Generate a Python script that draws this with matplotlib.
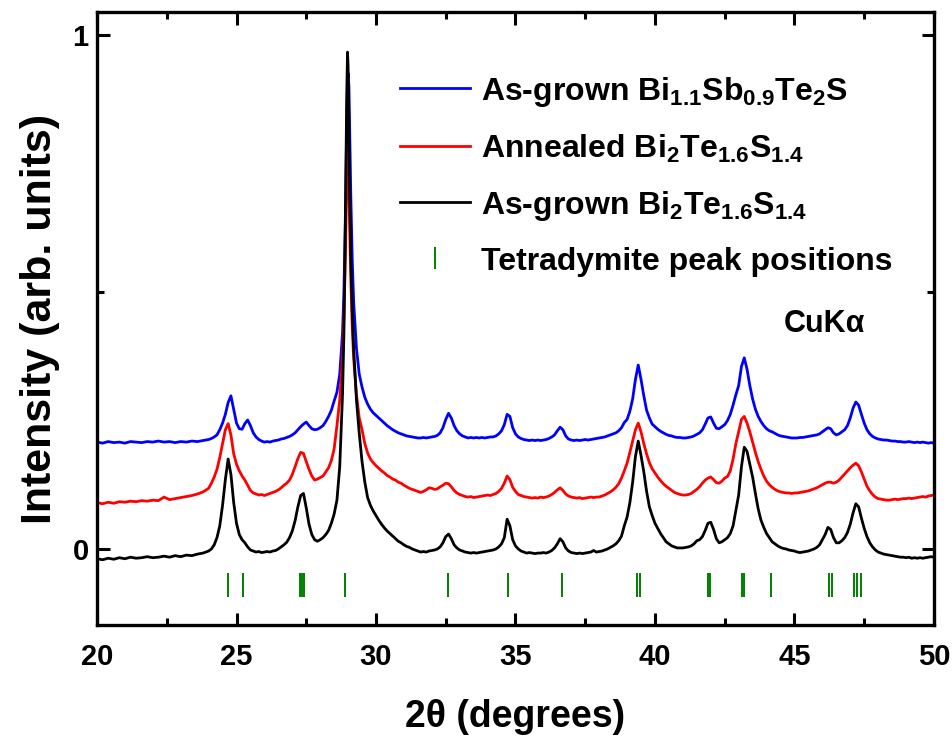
import numpy as np
import matplotlib
matplotlib.use("Agg")
import matplotlib.pyplot as plt
from matplotlib.lines import Line2D
from matplotlib.ticker import MultipleLocator

plt.rcParams['font.family'] = ['Liberation Sans', 'DejaVu Sans']
plt.rcParams['font.weight'] = 'bold'
plt.rcParams['mathtext.default'] = 'regular'

# ---- 2theta sampling grid (degrees) ----
x_seg_a = np.round(np.arange(20.0, 24.0001, 0.2), 2)
x_seg_b = np.round(np.arange(24.1, 28.5001, 0.1), 2)
x_seg_c = [28.6, 28.7, 28.8, 28.85, 28.9, 28.95, 28.98, 29.0, 29.03, 29.05,
           29.1, 29.15, 29.2, 29.3, 29.4, 29.5, 29.6, 29.7, 29.8, 29.9]
x_seg_d = np.round(np.arange(30.0, 50.0001, 0.1), 2)
two_theta = np.concatenate([x_seg_a, x_seg_b, x_seg_c, x_seg_d])

# ---- As-grown Bi2Te1.6S1.4 (black) ----
black_y = [
    # 20.0 - 24.0 (step 0.2)
    -0.019, -0.021, -0.018, -0.020, -0.017, -0.019, -0.016, -0.018, -0.017, -0.015,
    -0.017, -0.016, -0.014, -0.016, -0.013, -0.015, -0.012, -0.013, -0.010, -0.008, -0.004,
    # 24.1 - 28.5
    0.000, 0.008, 0.022, 0.045, 0.085, 0.135, 0.175, 0.145, 0.090, 0.050,
    0.028, 0.018, 0.012, 0.004, -0.002, -0.004, -0.006, -0.005, -0.007, -0.006,
    -0.005, -0.006, -0.004, -0.003, 0.000, 0.004, 0.008, 0.013, 0.022, 0.035,
    0.055, 0.082, 0.104, 0.108, 0.080, 0.048, 0.028, 0.018, 0.015, 0.018,
    0.022, 0.028, 0.036, 0.050, 0.068,
    # 28.6 - 29.9 (main peak)
    0.095, 0.160, 0.300, 0.420, 0.620, 0.880, 0.967, 0.940, 0.820, 0.720,
    0.560, 0.460, 0.390, 0.290, 0.225, 0.170, 0.130, 0.100, 0.085, 0.074,
    # 30.0 - 50.0
    0.065, 0.056, 0.048, 0.041, 0.035, 0.030, 0.025, 0.020, 0.015, 0.012,
    0.008, 0.005, 0.003, 0.000, -0.002, -0.004, -0.006, -0.005, -0.006, -0.004,
    -0.003, -0.002, 0.000, 0.004, 0.012, 0.024, 0.029, 0.020, 0.008, 0.002,
    -0.002, -0.004, -0.006, -0.007, -0.008, -0.007, -0.008, -0.007, -0.006, -0.005,
    -0.004, -0.003, -0.002, 0.000, 0.004, 0.010, 0.022, 0.058, 0.045, 0.018,
    0.006, 0.000, -0.004, -0.006, -0.008, -0.007, -0.008, -0.009, -0.008, -0.008,
    -0.007, -0.008, -0.006, -0.003, 0.002, 0.010, 0.020, 0.014, 0.002, -0.004,
    -0.007, -0.008, -0.009, -0.008, -0.009, -0.008, -0.007, -0.006, -0.003, -0.006,
    -0.005, -0.004, -0.002, 0.000, 0.003, 0.006, 0.010, 0.016, 0.025, 0.045,
    0.062, 0.090, 0.130, 0.180, 0.210, 0.182, 0.150, 0.112, 0.082, 0.065,
    0.050, 0.040, 0.030, 0.022, 0.014, 0.010, 0.006, 0.004, 0.002, 0.002,
    0.002, 0.003, 0.004, 0.006, 0.010, 0.016, 0.018, 0.024, 0.036, 0.050,
    0.052, 0.038, 0.020, 0.012, 0.014, 0.018, 0.022, 0.030, 0.045, 0.075,
    0.105, 0.160, 0.198, 0.190, 0.165, 0.140, 0.108, 0.078, 0.056, 0.042,
    0.030, 0.022, 0.014, 0.010, 0.006, 0.003, 0.001, 0.000, -0.002, -0.003,
    -0.004, -0.006, -0.007, -0.006, -0.005, -0.004, -0.002, 0.000, 0.003, 0.008,
    0.018, 0.028, 0.042, 0.038, 0.022, 0.012, 0.012, 0.016, 0.022, 0.032,
    0.048, 0.070, 0.088, 0.082, 0.060, 0.040, 0.024, 0.012, 0.004, -0.002,
    -0.006, -0.008, -0.010, -0.011, -0.012, -0.013, -0.014, -0.015, -0.016, -0.016,
    -0.017, -0.016, -0.018, -0.017, -0.018, -0.017, -0.018, -0.017, -0.016, -0.015,
    -0.016,
]

# ---- Annealed Bi2Te1.6S1.4 (red) ----
red_y = [
    0.090, 0.088, 0.091, 0.089, 0.092, 0.091, 0.093, 0.092, 0.094, 0.093,
    0.095, 0.094, 0.101, 0.096, 0.098, 0.100, 0.102, 0.104, 0.107, 0.111, 0.118,
    0.128, 0.140, 0.155, 0.178, 0.205, 0.232, 0.244, 0.222, 0.185, 0.165,
    0.152, 0.142, 0.134, 0.124, 0.114, 0.109, 0.107, 0.105, 0.106, 0.104,
    0.106, 0.108, 0.110, 0.112, 0.115, 0.119, 0.124, 0.128, 0.134, 0.145,
    0.160, 0.176, 0.188, 0.186, 0.170, 0.155, 0.142, 0.134, 0.136, 0.139,
    0.142, 0.150, 0.158, 0.172, 0.195,
    0.240, 0.290, 0.370, 0.450, 0.560, 0.720, 0.780, 0.770, 0.700, 0.640,
    0.520, 0.430, 0.370, 0.300, 0.255, 0.232, 0.205, 0.187, 0.175, 0.168,
    0.162, 0.157, 0.152, 0.148, 0.143, 0.140, 0.136, 0.134, 0.130, 0.128,
    0.124, 0.121, 0.118, 0.116, 0.114, 0.112, 0.110, 0.112, 0.115, 0.119,
    0.118, 0.116, 0.117, 0.121, 0.124, 0.128, 0.127, 0.121, 0.114, 0.109,
    0.106, 0.104, 0.102, 0.101, 0.102, 0.100, 0.101, 0.102, 0.103, 0.104,
    0.105, 0.104, 0.106, 0.108, 0.112, 0.118, 0.128, 0.142, 0.135, 0.120,
    0.112, 0.106, 0.104, 0.102, 0.101, 0.100, 0.099, 0.100, 0.099, 0.101,
    0.100, 0.101, 0.103, 0.106, 0.110, 0.115, 0.119, 0.114, 0.107, 0.103,
    0.101, 0.100, 0.099, 0.100, 0.098, 0.099, 0.100, 0.101, 0.100, 0.101,
    0.101, 0.103, 0.105, 0.108, 0.111, 0.115, 0.120, 0.127, 0.138, 0.152,
    0.167, 0.188, 0.210, 0.232, 0.245, 0.228, 0.205, 0.185, 0.168, 0.156,
    0.148, 0.140, 0.133, 0.127, 0.122, 0.118, 0.114, 0.110, 0.108, 0.106,
    0.105, 0.105, 0.106, 0.108, 0.112, 0.116, 0.121, 0.128, 0.134, 0.138,
    0.140, 0.135, 0.129, 0.128, 0.132, 0.138, 0.141, 0.152, 0.175, 0.205,
    0.228, 0.252, 0.258, 0.245, 0.228, 0.208, 0.188, 0.170, 0.155, 0.142,
    0.132, 0.125, 0.120, 0.116, 0.113, 0.111, 0.110, 0.109, 0.109, 0.108,
    0.109, 0.109, 0.110, 0.111, 0.112, 0.113, 0.115, 0.117, 0.119, 0.122,
    0.125, 0.128, 0.130, 0.130, 0.128, 0.130, 0.134, 0.140, 0.146, 0.152,
    0.158, 0.163, 0.167, 0.162, 0.150, 0.136, 0.122, 0.113, 0.106, 0.101,
    0.098, 0.097, 0.096, 0.095, 0.095, 0.096, 0.097, 0.096, 0.097, 0.098,
    0.098, 0.099, 0.098, 0.099, 0.100, 0.101, 0.102, 0.101, 0.103, 0.104,
    0.105,
]

# ---- As-grown Bi1.1Sb0.9Te2S (blue) ----
blue_y = [
    0.208, 0.206, 0.209, 0.207, 0.208, 0.206, 0.209, 0.208, 0.207, 0.209,
    0.208, 0.210, 0.208, 0.209, 0.207, 0.209, 0.208, 0.210, 0.209, 0.211, 0.213,
    0.215, 0.218, 0.222, 0.232, 0.245, 0.262, 0.285, 0.298, 0.272, 0.245,
    0.234, 0.233, 0.244, 0.251, 0.240, 0.226, 0.218, 0.213, 0.210, 0.208,
    0.209, 0.208, 0.210, 0.211, 0.212, 0.214, 0.215, 0.217, 0.219, 0.222,
    0.226, 0.232, 0.238, 0.243, 0.247, 0.240, 0.234, 0.232, 0.233, 0.236,
    0.240, 0.248, 0.258, 0.270, 0.288,
    0.305, 0.340, 0.420, 0.500, 0.640, 0.820, 0.905, 0.926, 0.900, 0.840,
    0.680, 0.560, 0.480, 0.390, 0.340, 0.315, 0.295, 0.282, 0.272, 0.265,
    0.260, 0.255, 0.250, 0.245, 0.240, 0.236, 0.232, 0.229, 0.226, 0.224,
    0.222, 0.220, 0.219, 0.218, 0.217, 0.216, 0.216, 0.217, 0.216, 0.217,
    0.218, 0.219, 0.221, 0.226, 0.236, 0.252, 0.264, 0.255, 0.240, 0.230,
    0.224, 0.220, 0.218, 0.216, 0.217, 0.216, 0.217, 0.216, 0.217, 0.216,
    0.217, 0.218, 0.218, 0.220, 0.224, 0.230, 0.242, 0.262, 0.258, 0.236,
    0.224, 0.218, 0.215, 0.213, 0.212, 0.211, 0.212, 0.211, 0.212, 0.211,
    0.212, 0.213, 0.215, 0.218, 0.222, 0.230, 0.237, 0.232, 0.220, 0.214,
    0.212, 0.211, 0.212, 0.211, 0.212, 0.213, 0.212, 0.213, 0.214, 0.215,
    0.216, 0.217, 0.218, 0.220, 0.222, 0.224, 0.226, 0.230, 0.236, 0.246,
    0.252, 0.268, 0.292, 0.330, 0.358, 0.330, 0.298, 0.270, 0.255, 0.243,
    0.238, 0.233, 0.229, 0.226, 0.223, 0.221, 0.220, 0.218, 0.217, 0.217,
    0.216, 0.216, 0.217, 0.218, 0.220, 0.223, 0.226, 0.232, 0.243, 0.255,
    0.257, 0.245, 0.235, 0.234, 0.238, 0.242, 0.250, 0.262, 0.280, 0.300,
    0.318, 0.355, 0.372, 0.350, 0.318, 0.292, 0.272, 0.258, 0.248, 0.240,
    0.234, 0.230, 0.228, 0.225, 0.222, 0.220, 0.219, 0.218, 0.217, 0.216,
    0.216, 0.216, 0.217, 0.217, 0.218, 0.219, 0.220, 0.221, 0.222, 0.224,
    0.228, 0.232, 0.236, 0.234, 0.226, 0.222, 0.224, 0.228, 0.232, 0.240,
    0.255, 0.274, 0.286, 0.280, 0.262, 0.245, 0.232, 0.224, 0.219, 0.216,
    0.214, 0.213, 0.212, 0.212, 0.211, 0.210, 0.210, 0.209, 0.209, 0.208,
    0.208, 0.209, 0.208, 0.207, 0.208, 0.207, 0.208, 0.207, 0.206, 0.207,
    0.206,
]

# ---- Tetradymite reference peak positions (degrees) ----
tetradymite_peaks = [24.71, 25.25, 27.28, 27.34, 27.41, 28.88, 32.57, 34.72,
                     36.65, 39.37, 39.46, 41.91, 41.99, 43.11, 43.19, 44.16,
                     46.25, 46.34, 47.12, 47.24, 47.37]

labels = ['As-grown Bi$_{1.1}$Sb$_{0.9}$Te$_{2}$S',
          'Annealed Bi$_{2}$Te$_{1.6}$S$_{1.4}$',
          'As-grown Bi$_{2}$Te$_{1.6}$S$_{1.4}$',
          'Tetradymite peak positions']

fig = plt.figure(figsize=(9.53, 7.38), dpi=100)
ax = fig.add_axes([0.1018, 0.1531, 0.8782, 0.8306])

lw = 2.0
ax.plot(two_theta, blue_y, color='#0000ff', lw=lw)
ax.plot(two_theta, red_y, color='#ff0000', lw=lw)
ax.plot(two_theta, black_y, color='black', lw=lw)
ax.vlines(tetradymite_peaks, -0.093, -0.047, color='#008000', lw=1.4)

ax.set_xlim(20, 50)
ax.set_ylim(-0.148, 1.045)
ax.xaxis.set_major_locator(MultipleLocator(5))
ax.xaxis.set_minor_locator(MultipleLocator(2.5))
ax.set_yticks([0, 1])
ax.set_yticklabels(['0', '1'])
ax.yaxis.set_minor_locator(MultipleLocator(0.5))

for s in ax.spines.values():
    s.set_linewidth(2.4)
ax.tick_params(which='both', direction='in', top=True, right=True, width=2.2)
ax.tick_params(which='major', length=9, labelsize=21, pad=13)
ax.tick_params(which='minor', length=5)
ax.tick_params(axis='y', which='major', pad=6)

ax.set_xlabel('2\u03b8 (degrees)', fontsize=27, fontweight='bold', labelpad=20)
ax.set_ylabel('Intensity (arb. units)', fontsize=31, fontweight='bold', labelpad=9)

handles = [Line2D([], [], color='#0000ff', lw=2),
           Line2D([], [], color='#ff0000', lw=2),
           Line2D([], [], color='black', lw=2),
           Line2D([], [], color='#008000', marker='|', linestyle='None',
                  markersize=16, markeredgewidth=1.4)]
leg = ax.legend(handles, labels, loc='upper left', bbox_to_anchor=(0.362, 0.898),
                frameon=False, fontsize=23, handlelength=2.2, handletextpad=0.35,
                labelspacing=0.75, borderpad=0, borderaxespad=0)
for t in leg.get_texts():
    t.set_fontweight('bold')

ax.text(44.62, 0.438, 'CuK\u03b1', fontsize=22, fontweight='bold', ha='left', va='center')

fig.savefig('out.png', dpi=100)
